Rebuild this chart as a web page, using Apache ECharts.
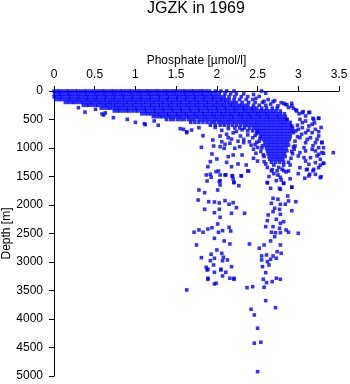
<!DOCTYPE html>
<html>
<head>
<meta charset="utf-8">
<script src="https://cdn.jsdelivr.net/npm/echarts@6/dist/echarts.min.js"></script>
<style>
  html, body { margin: 0; padding: 0; background: #fff; }
  #chart { width: 350px; height: 384px; }
</style>
</head>
<body>
<div id="chart"></div>
<script>
// Phosphate profile samples, JGZK 1969: [phosphate µmol/l, depth m]

// Upper ocean: sample depth levels and the phosphate readings taken at each level
const bandDepths = [0, 50, 100, 150, 200, 250, 300, 350, 400, 450, 500, 550, 600, 650, 700, 750,
  800, 850, 900, 950, 1000, 1050, 1100, 1150, 1200, 1250];
const bandPhosphate = [
  [0.00,0.04,0.07,0.11,0.15,0.18,0.22,0.26,0.29,0.33,0.37,0.40,0.44,0.48,0.51,0.55,0.59,0.62,0.66,0.70,0.73,0.77,0.81,0.84,0.88,0.92,0.95,0.99,1.03,1.06,1.10,1.14,1.17,1.21,1.25,1.28,1.32,1.36,1.39,1.43,1.47,1.50,1.54,1.58,1.61,1.65,1.69,1.72,1.76,1.80,1.83,1.87,1.91,1.98,2.05,2.12,2.21,2.55],
  [0.01,0.05,0.08,0.12,0.16,0.19,0.23,0.27,0.30,0.34,0.38,0.41,0.45,0.49,0.52,0.56,0.60,0.63,0.67,0.71,0.74,0.78,0.82,0.85,0.89,0.93,0.96,1.00,1.04,1.07,1.11,1.15,1.18,1.22,1.26,1.29,1.33,1.37,1.40,1.44,1.48,1.51,1.55,1.59,1.62,1.66,1.70,1.73,1.77,1.81,1.84,1.88,1.92,1.95,1.99,2.03,2.10,2.17,2.24,2.33],
  [0.00,0.03,0.07,0.10,0.14,0.18,0.21,0.25,0.29,0.32,0.36,0.40,0.43,0.47,0.51,0.54,0.58,0.62,0.65,0.69,0.73,0.76,0.80,0.84,0.87,0.91,0.95,0.98,1.02,1.06,1.09,1.13,1.17,1.20,1.24,1.28,1.31,1.35,1.39,1.42,1.46,1.50,1.53,1.57,1.61,1.64,1.68,1.72,1.75,1.79,1.83,1.86,1.90,1.94,1.97,2.01,2.05,2.09,2.15,2.22,2.30,2.38],
  [0.02,0.06,0.09,0.13,0.17,0.20,0.24,0.28,0.31,0.35,0.39,0.42,0.46,0.50,0.53,0.57,0.61,0.64,0.68,0.72,0.75,0.79,0.83,0.86,0.90,0.94,0.97,1.01,1.05,1.08,1.12,1.16,1.19,1.23,1.27,1.30,1.34,1.38,1.41,1.45,1.49,1.52,1.56,1.60,1.63,1.67,1.71,1.74,1.78,1.82,1.85,1.89,1.93,1.96,2.00,2.04,2.07,2.11,2.15,2.21,2.28,2.36,2.44],
  [0.14,0.18,0.22,0.25,0.29,0.33,0.36,0.40,0.44,0.47,0.51,0.55,0.58,0.62,0.66,0.69,0.73,0.77,0.80,0.84,0.88,0.91,0.95,0.99,1.02,1.06,1.10,1.13,1.17,1.21,1.24,1.28,1.32,1.35,1.39,1.43,1.46,1.50,1.54,1.57,1.61,1.65,1.68,1.72,1.76,1.79,1.83,1.87,1.90,1.94,1.98,2.01,2.05,2.09,2.12,2.16,2.20,2.24,2.31,2.39,2.47,2.56],
  [0.36,0.40,0.43,0.47,0.51,0.54,0.58,0.62,0.65,0.69,0.73,0.76,0.80,0.84,0.87,0.91,0.95,0.98,1.02,1.06,1.09,1.13,1.17,1.20,1.24,1.28,1.31,1.35,1.39,1.42,1.46,1.50,1.53,1.57,1.61,1.64,1.68,1.72,1.75,1.79,1.83,1.86,1.90,1.94,1.97,2.01,2.05,2.08,2.12,2.16,2.19,2.23,2.27,2.30,2.34,2.38,2.45,2.52,2.60],
  [0.58,0.62,0.66,0.69,0.73,0.77,0.80,0.84,0.88,0.91,0.95,0.99,1.02,1.06,1.10,1.13,1.17,1.21,1.24,1.28,1.32,1.35,1.39,1.43,1.46,1.50,1.54,1.57,1.61,1.65,1.68,1.72,1.76,1.79,1.83,1.87,1.90,1.94,1.98,2.01,2.05,2.09,2.12,2.16,2.20,2.23,2.27,2.31,2.34,2.38,2.42,2.45,2.49,2.55,2.61,2.68,2.74],
  [0.74,0.78,0.81,0.85,0.89,0.92,0.96,1.00,1.03,1.07,1.11,1.14,1.18,1.22,1.25,1.29,1.33,1.36,1.40,1.44,1.47,1.51,1.55,1.58,1.62,1.66,1.69,1.73,1.77,1.80,1.84,1.88,1.91,1.95,1.99,2.02,2.06,2.10,2.13,2.17,2.21,2.24,2.28,2.32,2.35,2.39,2.43,2.46,2.50,2.54,2.57,2.61,2.65,2.69,2.73,2.78],
  [1.08,1.12,1.16,1.19,1.23,1.27,1.30,1.34,1.38,1.41,1.45,1.49,1.52,1.56,1.60,1.63,1.67,1.71,1.74,1.78,1.82,1.85,1.89,1.93,1.96,2.00,2.04,2.07,2.11,2.15,2.18,2.22,2.26,2.29,2.33,2.37,2.40,2.44,2.48,2.51,2.55,2.59,2.62,2.66,2.70,2.74,2.78,2.83],
  [1.22,1.26,1.30,1.33,1.37,1.41,1.44,1.48,1.52,1.55,1.59,1.63,1.66,1.70,1.74,1.77,1.81,1.85,1.88,1.92,1.96,1.99,2.03,2.07,2.10,2.14,2.18,2.21,2.25,2.29,2.32,2.36,2.40,2.43,2.47,2.51,2.54,2.58,2.62,2.65,2.69,2.73,2.76,2.80,2.84],
  [1.38,1.43,1.47,1.52,1.56,1.60,1.65,1.69,1.73,1.78,1.82,1.86,1.90,1.94,1.98,2.02,2.06,2.10,2.14,2.18,2.22,2.26,2.30,2.34,2.38,2.42,2.46,2.50,2.54,2.58,2.62,2.66,2.70,2.74,2.78,2.82,2.86],
  [1.68,1.73,1.78,1.83,1.88,1.93,1.97,2.02,2.06,2.10,2.14,2.18,2.22,2.26,2.30,2.34,2.38,2.42,2.46,2.50,2.54,2.58,2.62,2.66,2.70,2.74,2.78,2.82,2.86,2.90],
  [1.92,1.98,2.04,2.09,2.14,2.19,2.24,2.29,2.34,2.38,2.42,2.46,2.50,2.54,2.58,2.62,2.66,2.70,2.74,2.78,2.82,2.86,2.90],
  [2.22,2.28,2.34,2.40,2.45,2.49,2.53,2.57,2.61,2.65,2.69,2.73,2.77,2.81,2.85,2.89,2.93],
  [2.38,2.44,2.49,2.53,2.57,2.61,2.65,2.69,2.73,2.77,2.81,2.85,2.89,2.93],
  [2.49,2.54,2.58,2.62,2.66,2.70,2.74,2.78,2.82,2.86,2.90],
  [2.54,2.58,2.62,2.66,2.70,2.74,2.78,2.82,2.86,2.90],
  [2.57,2.61,2.65,2.69,2.73,2.77,2.81,2.85,2.89],
  [2.59,2.63,2.67,2.71,2.75,2.79,2.83,2.87],
  [2.60,2.64,2.68,2.72,2.76,2.80,2.84,2.88],
  [2.61,2.65,2.69,2.73,2.77,2.81,2.85],
  [2.62,2.66,2.70,2.74,2.78,2.82,2.86],
  [2.63,2.67,2.71,2.75,2.79,2.83],
  [2.64,2.68,2.72,2.76,2.80,2.84],
  [2.65,2.69,2.73,2.77,2.81],
  [2.67,2.72,2.77,2.82]
];

// Scattered samples around the edges of the upper-ocean band
const fringeSamples = [
  [0.30,293],[0.38,370],[0.51,321],[0.59,403],[0.63,385],[0.61,421],[0.73,468],[0.90,497],[1.00,550],
  [1.11,574],[1.12,590],[1.23,526],[1.28,600],[1.55,661],[1.59,672],[1.63,731],[1.69,684],[1.78,643],
  [1.63,714],[1.83,784],[1.95,860],[2.06,890],[2.18,845],[2.33,905],[2.42,950],[2.10,935],[2.45,1020],
  [1.98,640],[2.06,690],[2.14,660],[2.24,710],[2.31,680],[2.12,760],[2.20,735],[2.29,790],[2.38,770],
  [2.44,820],[2.04,790],[2.33,850],[2.26,880],[2.40,890],[2.47,940],[2.14,820],[2.50,990],
  [1.81,988],[1.96,965],[2.04,977],[2.09,1005],[2.16,917],[2.22,1005],[2.28,977],[1.94,1105],[2.14,1152],
  [2.20,1123],[2.31,1123],[2.48,1093],[1.92,1240],[2.00,1193],[2.12,1251],[2.26,1280],[2.36,1298],
  [1.89,1328],[2.18,1328],[2.39,1403],[1.92,1461],[2.02,1403],[2.10,1473],[2.19,1486],[2.30,1486],
  [2.03,1591],[2.21,1601],[2.50,1230],[2.45,1180],
  [2.45,60],[2.60,40],[2.52,95],[2.48,130],[2.63,150],[2.58,180],[2.71,170],[2.66,230],[2.79,205],
  [2.75,260],[2.86,240],[2.88,290],[2.97,330],[3.01,400],[3.06,363],[3.14,374],[3.18,479],[3.25,479],
  [2.94,303],[2.92,216],[2.82,216],[2.69,188],[2.84,234],[2.92,263],[2.98,351],
  [2.52,880],[2.55,1000],[2.57,1120],[2.60,1280],[2.58,1240],[2.88,1250],[2.91,1180],[2.92,1060],
  [2.94,980],[2.96,880],[2.90,1300],[2.70,1300],[2.76,1340],[2.82,1300],[2.68,1380],[2.80,1370],
  [2.70,1450],[2.85,1420],[2.64,1500],[2.90,1540],[3.00,1450],[3.18,1400],[3.10,1380],
  [2.50,720],[2.47,780],[2.53,830],[2.49,900],[2.56,960],[2.54,1060],[2.58,1150],[2.93,1100],
  [2.95,1020],[2.99,800],[2.97,700],[2.99,600],[2.62,1340],[2.74,1400]
];

// High-phosphate samples east of the core, 400-1500 m
const eastLobe = [
  [3.05,380],[3.13,380],[3.25,479],[3.02,497],[3.09,526],[3.19,497],[3.13,614],[3.05,643],[3.21,672],
  [3.09,731],[3.25,789],[3.15,819],[3.02,819],[3.09,907],[3.21,907],[3.29,907],[3.25,994],[3.17,1023],
  [3.09,1052],[3.02,1082],[3.29,1082],[3.23,1140],[3.15,1170],[3.09,1228],[3.21,1257],[3.31,1269],
  [3.25,1345],[3.02,1345],[3.11,1374],[3.21,1462],[3.13,1491],[3.27,1520],[3.00,1140],[2.96,965],
  [2.94,731],[2.92,614],[2.86,497],[3.43,1082],[3.17,731],[3.07,994],[3.21,1052],[3.13,1286],
  [3.27,1199],[3.05,555],[3.17,584],[3.11,848],[3.25,1111],[3.19,1374],[3.23,848],[3.07,1170],
  [3.31,994],[3.09,438],[3.00,672],[3.25,714],[3.29,900],[3.31,1093],[3.31,1268],[3.28,1503],
  [3.14,1461],[3.08,1531],[3.20,560],[3.28,640],[3.12,690],[3.04,760],[3.18,960],[3.27,1300]
];

// Deep samples, western stations (around 2 µmol/l)
const westPlume = [
  [1.87,1473],[1.93,1514],[1.99,1415],[2.04,1473],[2.11,1473],[2.19,1491],[2.20,1544],[2.30,1491],
  [2.38,1403],[1.88,1579],[2.04,1573],[2.21,1608],[2.27,1661],[2.04,1649],[1.78,1737],[1.85,1784],
  [2.01,1737],[1.77,1912],[1.90,1942],[1.97,1947],[2.03,1965],[2.10,1924],[2.15,1987],[2.20,1959],
  [2.24,2047],[1.85,2075],[1.97,2135],[2.03,2075],[2.18,2145],[2.34,2145],[2.04,2215],[2.01,2333],
  [1.94,2398],[1.89,2421],[1.83,2478],[1.72,2478],[1.78,2438],[2.07,2450],[2.02,2478],[2.15,2391],
  [2.17,2456],[1.97,2584],[2.09,2631],[1.75,2701],[2.16,2684],[2.40,2684],[2.00,2789],[1.93,2864],
  [2.06,2847],[1.81,2924],[1.97,2934],[2.08,2917],[1.92,2977],[2.07,2977],[2.13,2964],[1.96,3052],
  [1.87,3092],[2.18,3082],[1.89,3127],[2.05,3127],[2.11,3180],[1.89,3285],[2.07,3245],[2.16,3285],
  [2.21,3285],[1.88,3140],[1.97,3180],[2.05,3140],[2.21,3303],[1.89,3303],[1.97,3385],[1.99,3373],
  [1.63,3490],[2.37,3450],[2.44,3433]
];

// Deep samples, eastern stations (around 2.7 µmol/l)
const eastPlume = [
  [2.67,1403],[2.75,1473],[2.82,1398],[2.88,1403],[2.78,1514],[2.73,1573],[2.62,1608],[2.82,1619],
  [2.92,1689],[2.78,1724],[2.66,1707],[2.87,1842],[2.69,1882],[2.75,1900],[2.97,1942],[2.67,1970],
  [2.78,1987],[2.84,1987],[2.88,1929],[2.71,2057],[2.77,2075],[2.92,2100],[2.69,2117],[2.63,2175],
  [2.78,2163],[2.62,2275],[2.73,2251],[2.78,2321],[2.82,2292],[2.60,2380],[2.69,2380],[2.77,2408],
  [2.85,2438],[2.88,2478],[3.00,2496],[2.67,2478],[2.72,2485],[2.78,2485],[2.71,2556],[2.66,2631],
  [2.78,2701],[2.58,2701],[2.52,2759],[2.74,2819],[2.79,2847],[2.61,2877],[2.69,2894],[2.55,2894],
  [2.73,2934],[2.55,2964],[2.66,2952],[2.62,2994],[2.56,3082],[2.64,3052],[2.60,3187],[2.73,3285],
  [2.78,3303],[2.57,3303],[2.61,3362],[2.68,3345],[2.58,3443],
  [2.92,1689],[2.82,1619],[2.79,1561],[2.77,1707],[2.62,1608]
];

// Abyssal samples below 3500 m
const abyssalSamples = [
  [2.60,3678],[2.42,3829],[2.72,3801],[2.46,3929],[2.50,4162],[2.46,4425],[2.54,4408],[2.50,4924]
];

// Axis ranges
const phosphateTicks = [0, 0.5, 1, 1.5, 2, 2.5, 3, 3.5];
const depthTicks = [0, 500, 1000, 1500, 2000, 2500, 3000, 3500, 4000, 4500, 5000];

const points = [];
bandDepths.forEach((d, i) => bandPhosphate[i].forEach(p => points.push([p, d])));
fringeSamples.concat(eastLobe, westPlume, eastPlume, abyssalSamples).forEach(s => points.push(s));

const font = '"Liberation Sans", Arial, Helvetica, sans-serif';
const chart = echarts.init(document.getElementById('chart'), null, { renderer: 'canvas' });
chart.setOption({
  animation: false,
  backgroundColor: '#ffffff',
  title: {
    text: 'JGZK in 1969',
    left: 196,
    top: 1,
    padding: 0,
    textAlign: 'center',
    textStyle: { fontFamily: font, fontSize: 16, fontWeight: 'normal', color: '#000' }
  },
  grid: { left: 54, top: 91, width: 285, height: 285, outerBoundsMode: 'none', containLabel: false },
  xAxis: {
    type: 'value',
    position: 'top',
    min: phosphateTicks[0],
    max: phosphateTicks[phosphateTicks.length - 1],
    interval: 0.5,
    name: 'Phosphate [µmol/l]',
    nameLocation: 'middle',
    nameGap: 24,
    nameMoveOverlap: false,
    nameTextStyle: { fontFamily: font, fontSize: 12, color: '#000' },
    axisLine: { show: true, lineStyle: { color: '#000', width: 1 } },
    axisTick: { show: true, length: 5, lineStyle: { color: '#000' } },
    axisLabel: { fontFamily: font, fontSize: 12, color: '#000', margin: 10 },
    splitLine: { show: false }
  },
  yAxis: {
    type: 'value',
    inverse: true,
    min: depthTicks[0],
    max: depthTicks[depthTicks.length - 1],
    interval: 500,
    name: 'Depth [m]',
    nameLocation: 'middle',
    nameGap: 41,
    nameRotate: 90,
    nameMoveOverlap: false,
    nameTextStyle: { fontFamily: font, fontSize: 12, color: '#000' },
    axisLine: { show: true, lineStyle: { color: '#000', width: 1 } },
    axisTick: { show: true, length: 5, lineStyle: { color: '#000' } },
    axisLabel: { fontFamily: font, fontSize: 12, color: '#000', margin: 11, formatter: v => String(v) },
    splitLine: { show: false }
  },
  series: [{
    type: 'scatter',
    data: points,
    symbol: 'rect',
    symbolSize: 3.6,
    itemStyle: { color: '#0000ff' },
    silent: true
  }]
});
</script>
</body>
</html>
